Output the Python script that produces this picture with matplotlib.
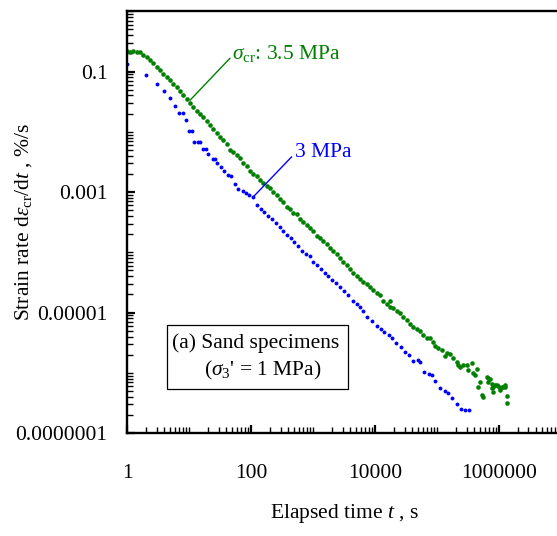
import numpy as np
import matplotlib
matplotlib.use('Agg')
import matplotlib.pyplot as plt
from matplotlib.ticker import FixedLocator, FixedFormatter, LogLocator, NullFormatter
from matplotlib.patches import Rectangle

plt.rcParams['font.family'] = 'Liberation Serif'
plt.rcParams['mathtext.fontset'] = 'custom'
plt.rcParams['mathtext.rm'] = 'Liberation Serif'
plt.rcParams['mathtext.it'] = 'Liberation Serif:italic'

# creep rate data (t in s, rate in %/s)
t_35mpa = [1.0, 1.12, 1.26, 1.43, 1.62, 1.83, 2.08, 2.35, 2.66, 3.01,
           3.41, 3.85, 4.37, 4.94, 5.58, 6.34, 7.16, 8.09, 9.18, 10.4,
           11.7, 13.3, 15.0, 17.0, 19.3, 21.8, 24.7, 28.0, 31.6, 35.7,
           40.6, 45.8, 51.8, 58.8, 66.5, 75.1, 85.3, 96.4, 109, 124,
           140, 158, 179, 202, 229, 260, 294, 332, 377, 426,
           481, 546, 617, 698, 791, 895, 1012, 1148, 1297, 1466,
           1663, 1880, 2125, 2410, 2724, 3080, 3500, 3953, 4467, 5070,
           5730, 6470, 7350, 8300, 9400, 10650, 12040, 13620, 15450, 17460,
           17460, 19730, 22390, 25300, 28580, 32430, 36700, 41500, 47100, 53200,
           60100, 68200, 77100, 87100, 92900, 105000, 119100, 134600, 143300, 162200,
           183300, 208000, 220800, 235000, 265600, 301300, 320000, 363000, 385000, 436500,
           410000, 494000, 463000, 526000, 558000, 634000, 672000, 716000, 762000, 809000,
           861000, 975000, 1038000, 1106000, 1250000, 1330000, 1330000, 672000, 916000, 1175000,
           1038000, 762000, 809000, 1250000]
rate_35mpa = [0.217, 0.211, 0.217, 0.211, 0.207, 0.191, 0.173, 0.154, 0.136, 0.117,
              0.108, 0.0927, 0.0804, 0.0737, 0.0632, 0.0543, 0.0471, 0.0405, 0.0347, 0.0295,
              0.0256, 0.0220, 0.0194, 0.0177, 0.0150, 0.0132, 0.0113, 0.00948, 0.00830, 0.00726,
              0.00635, 0.00508, 0.00464, 0.00409, 0.00361, 0.00305, 0.00269, 0.00225, 0.00198, 0.00184,
              0.00157, 0.00142, 0.00125, 0.00115, 0.00101, 0.000889, 0.000769, 0.000680, 0.000566, 0.000520,
              0.000452, 0.000425, 0.000356, 0.000321, 0.000283, 0.000249, 0.000225, 0.000188, 0.000174, 0.000153,
              0.000135, 0.000116, 0.000105, 9.23e-5, 8.11e-5, 6.80e-5, 6.14e-5, 5.31e-5, 4.60e-5, 4.07e-5,
              3.56e-5, 3.24e-5, 2.94e-5, 2.62e-5, 2.36e-5, 2.13e-5, 1.93e-5, 1.57e-5, 1.38e-5, 1.55e-5,
              1.25e-5, 1.17e-5, 1.06e-5, 9.70e-6, 8.32e-6, 7.51e-6, 6.44e-6, 5.81e-6, 5.32e-6, 4.93e-6,
              4.24e-6, 3.78e-6, 3.73e-6, 3.28e-6, 2.78e-6, 2.55e-6, 2.39e-6, 1.90e-6, 2.15e-6, 2.05e-6,
              1.74e-6, 1.53e-6, 1.35e-6, 1.23e-6, 1.35e-6, 1.35e-6, 1.11e-6, 1.44e-6, 1.00e-6, 1.14e-6,
              9.19e-7, 7.11e-7, 5.88e-7, 4.28e-7, 4.02e-7, 8.62e-7, 7.11e-7, 7.80e-7, 5.53e-7, 4.86e-7,
              6.28e-7, 6.04e-7, 5.19e-7, 5.88e-7, 5.75e-7, 4.12e-7, 3.12e-7, 8.1e-7, 6.28e-7, 5.88e-7,
              5.53e-7, 6.52e-7, 5.88e-7, 6.28e-7]

t_3mpa = [1, 2, 3, 4, 5, 6, 7, 8, 9, 10, 11, 12, 14, 15, 17, 19, 20.5,
          24.1, 26.3, 28.6, 33.2, 36.7, 42.6, 47.1, 54.6, 62.4, 73.5, 83.0,
          94, 109, 124, 143, 162, 188, 218, 253, 294, 332, 383, 437, 494,
          566, 657, 771, 895, 989, 1173, 1346, 1545, 1746, 2024, 2350, 2724,
          3162, 3670, 4365, 5070, 5730, 6470, 7510, 8950, 10650, 12360, 14130,
          16830, 19010, 22070, 26000, 30150, 34970, 41020, 48850, 52600, 61700,
          73500, 82200, 93900, 111700, 133000, 152000, 174600, 208000, 246600,
          280000, 324600]
rate_3mpa = [0.131, 0.0891, 0.0615, 0.0471, 0.0365, 0.0266, 0.0206, 0.0206, 0.0154,
             0.0105, 0.0105, 0.0068, 0.0068, 0.0068, 0.00514, 0.00514, 0.00425,
             0.00347, 0.00347, 0.00305, 0.00262, 0.00222, 0.00193, 0.00184, 0.00135,
             0.00112, 0.00105, 0.00097, 0.000899, 0.000813, 0.000614, 0.000526,
             0.000464, 0.000398, 0.000356, 0.000305, 0.000265, 0.000225, 0.000197,
             0.00017, 0.000146, 0.000127, 0.000106, 9.23e-5, 8.65e-5, 6.95e-5,
             6.14e-5, 5.2e-5, 4.57e-5, 4.03e-5, 3.46e-5, 3.08e-5, 2.65e-5, 2.27e-5,
             1.95e-5, 1.57e-5, 1.37e-5, 1.22e-5, 1.07e-5, 8.32e-6, 7.31e-6, 6.04e-6,
             5.38e-6, 4.70e-6, 4.28e-6, 3.82e-6, 3.08e-6, 2.65e-6, 2.19e-6, 1.97e-6,
             1.59e-6, 1.63e-6, 1.51e-6, 1.03e-6, 9.55e-7, 9.19e-7, 7.23e-7, 5.60e-7,
             5.05e-7, 4.57e-7, 3.82e-7, 3.08e-7, 2.51e-7, 2.42e-7, 2.42e-7]

x_ticks = [1, 100, 1e4, 1e6]
x_labels = ['1', '100', '10000', '1000000']
y_ticks = [1e-1, 1e-3, 1e-5, 1e-7]
y_labels = ['0.1', '0.001', '0.00001', '0.0000001']

fig = plt.figure(figsize=(5.57, 5.36), dpi=100)
ax = fig.add_axes([0.228, 0.192, 0.779, 0.787])

ax.plot(t_35mpa, rate_35mpa, 'o', color='green', ms=3.3, mew=0)
ax.plot(t_3mpa, rate_3mpa, 'o', color='blue', ms=2.8, mew=0)

ax.set_xscale('log')
ax.set_yscale('log')
ax.set_xlim(1, 1e7)
ax.set_ylim(1e-7, 1)

ax.xaxis.set_major_locator(FixedLocator(x_ticks))
ax.xaxis.set_major_formatter(FixedFormatter(x_labels))
ax.yaxis.set_major_locator(FixedLocator(y_ticks))
ax.yaxis.set_major_formatter(FixedFormatter(y_labels))
ax.xaxis.set_minor_locator(LogLocator(base=10, subs=np.arange(1, 10), numticks=100))
ax.yaxis.set_minor_locator(LogLocator(base=10, subs=np.arange(1, 10), numticks=100))
ax.xaxis.set_minor_formatter(NullFormatter())
ax.yaxis.set_minor_formatter(NullFormatter())

ax.tick_params(which='both', direction='in', top=False, right=False)
ax.tick_params(which='major', length=6, width=1.6)
ax.tick_params(which='minor', length=4, width=1.0)
ax.tick_params(axis='x', which='major', pad=22, labelsize=15.5)
ax.tick_params(axis='y', which='major', pad=14, labelsize=15.5)
for s in ax.spines.values():
    s.set_linewidth(1.7)

ax.set_xlabel('Elapsed time $t$ , s', fontsize=15.5, labelpad=14)
ax.set_ylabel('Strain rate d$\\varepsilon_{\\rm cr}$/d$t$ , %/s', fontsize=15.5)
ax.yaxis.set_label_coords(-0.215, 0.5)

# labels with leader lines
ax.annotate('', xy=(10.4, 0.0334), xytext=(45.8, 0.166),
            arrowprops=dict(arrowstyle='-', color='green', lw=1, shrinkA=0, shrinkB=0))
ax.text(49.4, 0.201, '$\\sigma_{\\rm cr}$: 3.5 MPa', color='green', fontsize=15.5,
        ha='left', va='center')
ax.annotate('', xy=(109, 0.000832), xytext=(453, 0.00384),
            arrowprops=dict(arrowstyle='-', color='blue', lw=1, shrinkA=0, shrinkB=0))
ax.text(513, 0.00459, '3 MPa', color='blue', fontsize=15.5, ha='left', va='center')

# caption box
ax.add_patch(Rectangle((0.092, 0.104), 0.417, 0.152, transform=ax.transAxes,
                       fill=False, ec='black', lw=0.9))
ax.text(0.104, 0.213, '(a) Sand specimens', transform=ax.transAxes, fontsize=15.5,
        ha='left', va='center')
ax.text(0.178, 0.148, "($\\sigma_3$' = 1 MPa)", transform=ax.transAxes, fontsize=15.5,
        ha='left', va='center')

plt.savefig('out.png', dpi=100)
